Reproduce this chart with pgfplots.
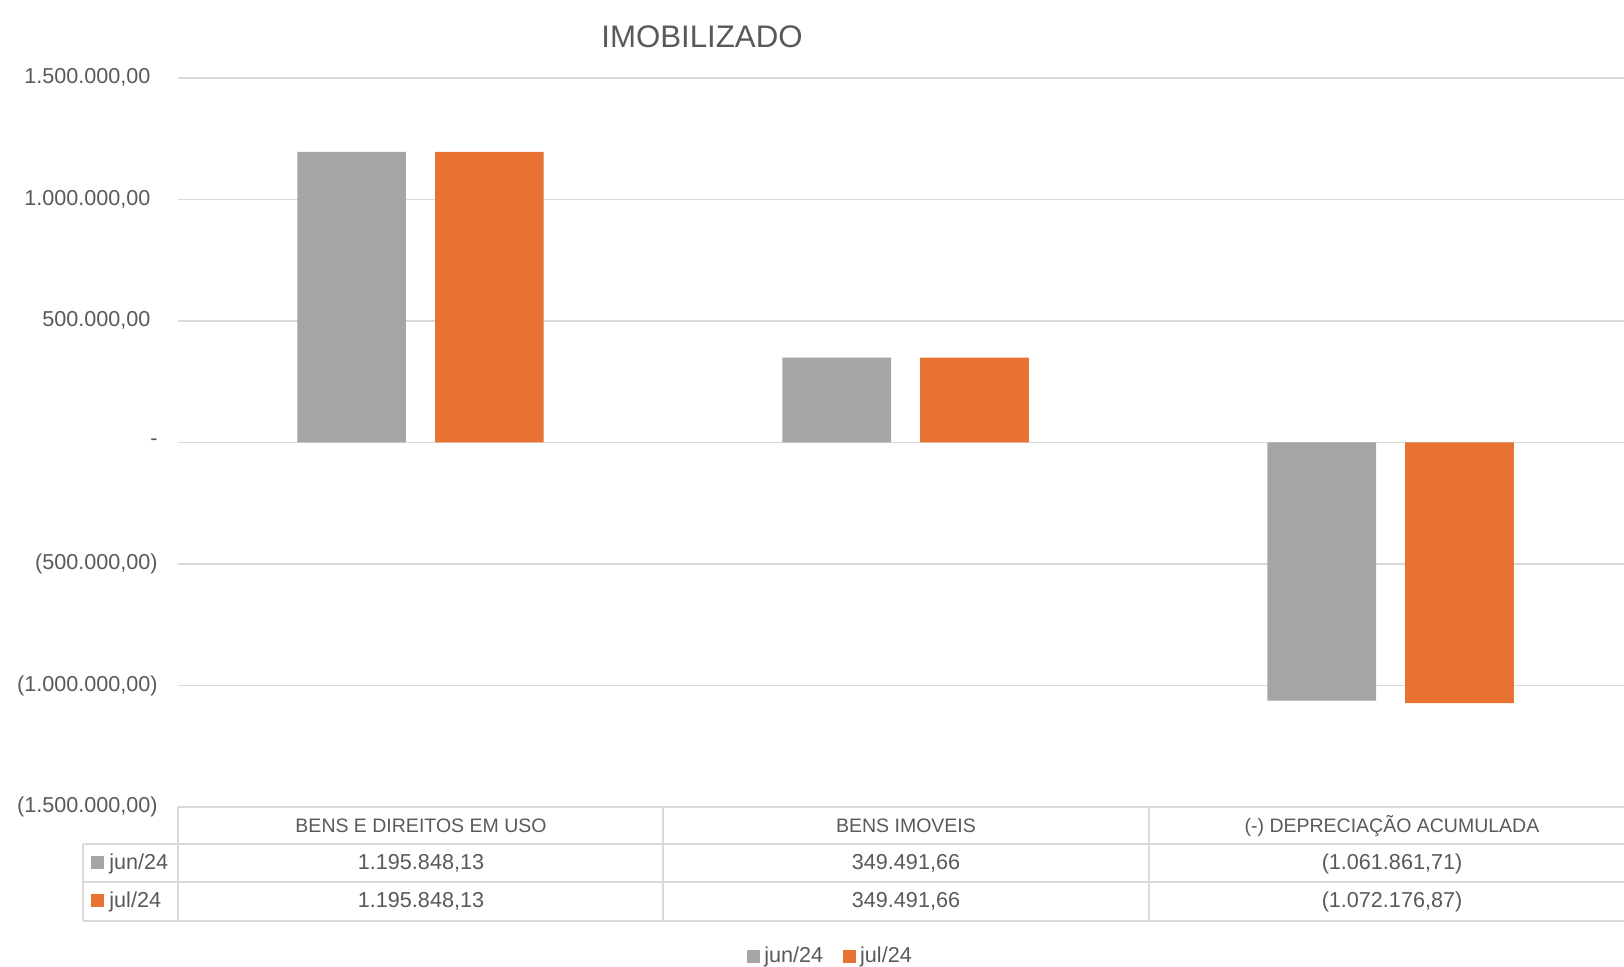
\documentclass[border=0pt]{standalone}
\usepackage{fontspec}
\setmainfont{Liberation Sans}
\usepackage{pgfplots}
\pgfplotsset{compat=1.18}
\definecolor{cgray}{HTML}{A5A5A5}
\definecolor{corange}{HTML}{E97132}
\definecolor{cgrid}{HTML}{D9D9D9}
\definecolor{ctext}{HTML}{595959}
\newcommand{\numfont}{\fontsize{10.8}{13}\selectfont}
\newcommand{\capfont}{\fontsize{9.75}{12}\selectfont}

\begin{document}
% 1 unit = 1 px of the 1624x967 reference, y measured from the bottom
\begin{tikzpicture}[x=0.5pt,y=0.5pt]
\path[use as bounding box] (0,0) rectangle (1624,967);
\begin{axis}[
  at={(89pt,80pt)}, anchor=south west,
  scale only axis, width=723pt, height=364.5pt,
  xmin=-0.5, xmax=2.481,
  ymin=-1500000, ymax=1500000,
  scaled y ticks=false,
  xtick=\empty,
  ytick={-1500000,-1000000,-500000,0,500000,1000000,1500000},
  yticklabels={{(1.500.000,00)},{(1.000.000,00)},{(500.000,00)},{-\hspace{7.5pt}},
    {500.000,00\phantom{)}},{1.000.000,00\phantom{)}},{1.500.000,00\phantom{)}}},
  yticklabel style={anchor=east, inner sep=0pt, xshift=-10pt, font=\numfont, text=ctext},
  ymajorgrids, grid style={cgrid, line width=0.75pt},
  axis line style={draw=none},
  major tick length=0pt,
  clip=false,
  legend columns=2,
  legend style={at={(0.452,-0.2044)}, anchor=center, draw=none, fill=none,
    font=\numfont, text=ctext,
    /tikz/every even column/.append style={column sep=8pt}},
]
\addplot[ybar, bar width=0.224, bar shift=-0.142, fill=cgray, draw=none,
  legend image code/.code={\fill[cgray] (0pt,-3.25pt) rectangle (6.5pt,3.25pt);}]
  coordinates {(0,1195848.13) (1,349491.66) (2,-1061861.71)};
\addlegendentry{jun/24}
\addplot[ybar, bar width=0.224, bar shift=0.142, fill=corange, draw=none,
  legend image code/.code={\fill[corange] (0pt,-3.25pt) rectangle (6.5pt,3.25pt);}]
  coordinates {(0,1195848.13) (1,349491.66) (2,-1072176.87)};
\addlegendentry{jul/24}
\end{axis}

% title
\node[anchor=base, text=ctext, font=\fontsize{15.6}{18}\selectfont] at (702,919) {IMOBILIZADO};

% data table
\draw[cgrid, line width=0.75pt]
  (83,123) -- (1624,123) (83,85) -- (1624,85) (83,46) -- (1624,46)
  (178,160) -- (178,46) (83,123) -- (83,46) (663,160) -- (663,46) (1149,160) -- (1149,46);
\begin{scope}[every node/.style={anchor=base, text=ctext, inner sep=0pt}]
\node[font=\capfont] at (421,134) {BENS E DIREITOS EM USO};
\node[font=\capfont] at (906,134) {BENS IMOVEIS};
\node[font=\capfont] at (1392,134) {(-) DEPRECIAÇÃO ACUMULADA};
\node[font=\numfont] at (421,97) {1.195.848,13};
\node[font=\numfont] at (906,97) {349.491,66};
\node[font=\numfont] at (1392,97) {(1.061.861,71)};
\node[font=\numfont] at (421,59) {1.195.848,13};
\node[font=\numfont] at (906,59) {349.491,66};
\node[font=\numfont] at (1392,59) {(1.072.176,87)};
\node[font=\numfont, anchor=base west] at (109,97) {jun/24};
\node[font=\numfont, anchor=base west] at (109,59) {jul/24};
\end{scope}
\fill[cgray] (91,98) rectangle (104,111);
\fill[corange] (91,60) rectangle (104,73);
\end{tikzpicture}
\end{document}
